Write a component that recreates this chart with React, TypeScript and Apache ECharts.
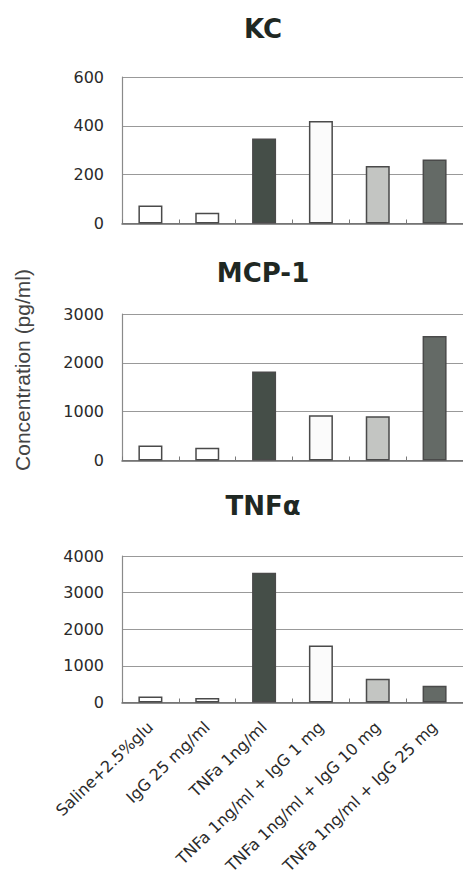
import React, { useEffect, useRef } from "react";
import * as echarts from "echarts";

const categories = [
  "Saline+2.5%glu",
  "IgG 25 mg/ml",
  "TNFa 1ng/ml",
  "TNFa 1ng/ml + IgG 1 mg",
  "TNFa 1ng/ml + IgG 10 mg",
  "TNFa 1ng/ml + IgG 25 mg",
];
const kcValues = [74, 44, 348, 420, 235, 262];
const mcp1Values = [306, 260, 1823, 925, 904, 2551];
const tnfValues = [163, 120, 3542, 1553, 646, 455];
const panelTitles = ["KC", "MCP-1", "TNFα"];
const yMax = [600, 3000, 4000];
const yInterval = [200, 1000, 1000];
const yAxisTitle = "Concentration (pg/ml)";

const barColors = ["#ffffff", "#ffffff", "#454e48", "#fbfbfb", "#c3c5c2", "#646a66"];

const gridTops = [77, 314, 556];
const gridHeight = 146.5;

export default function App() {
  const ref = useRef<HTMLDivElement>(null);
  useEffect(() => {
    if (!ref.current) return;
    const chart = echarts.init(ref.current, null, { renderer: "svg" });
    const allValues = [kcValues, mcp1Values, tnfValues];
    const grids = gridTops.map((t) => ({ left: 122, top: t, width: 341, height: gridHeight }));
    const xAxes = gridTops.map((_, i) => ({
      type: "category",
      gridIndex: i,
      data: categories,
      boundaryGap: true,
      axisLine: { show: true, lineStyle: { color: "#6a6a6a", width: 1.5 } },
      axisTick: { show: true, inside: true, length: 4, lineStyle: { color: "#7a7a7a" } },
      axisLabel: {
        show: i === 2,
        interval: 0,
        rotate: 44,
        margin: 22,
        fontFamily: "DejaVu Sans",
        fontSize: 16,
        color: "#2a2a2a",
      },
    }));
    const yAxes = gridTops.map((_, i) => ({
      type: "value",
      gridIndex: i,
      min: 0,
      max: yMax[i],
      interval: yInterval[i],
      axisLine: { show: true, lineStyle: { color: "#8a8a8a", width: 1.2 } },
      axisTick: { show: false },
      splitLine: { show: true, lineStyle: { color: "#999", width: 1.2 } },
      axisLabel: {
        margin: 18,
        fontFamily: "DejaVu Sans",
        fontSize: 16,
        color: "#2a2a2a",
        formatter: (v: number) => String(v),
      },
    }));
    const series = allValues.map((vals, i) => ({
      type: "bar",
      xAxisIndex: i,
      yAxisIndex: i,
      barWidth: 24,
      data: vals.map((v, j) => ({
        value: v,
        itemStyle: { color: barColors[j], borderColor: "#4a4a4a", borderWidth: 1.5 },
      })),
    }));
    const titleY = [29, 273, 506];
    const graphic: any[] = panelTitles.map((t, i) => ({
      type: "text",
      x: 263,
      y: titleY[i],
      style: {
        text: t,
        fontFamily: "DejaVu Sans",
        fontWeight: "bold",
        fontSize: 26,
        fill: "#1f2823",
        align: "center",
        verticalAlign: "middle",
      },
    }));
    graphic.push({
      type: "text",
      x: 22,
      y: 370,
      rotation: Math.PI / 2,
      style: {
        text: yAxisTitle,
        fontFamily: "Liberation Sans",
        fontSize: 21,
        fill: "#444",
        align: "center",
        verticalAlign: "middle",
      },
    });
    chart.setOption({
      animation: false,
      backgroundColor: "#ffffff",
      grid: grids,
      xAxis: xAxes,
      yAxis: yAxes,
      series,
      graphic,
    });
    return () => chart.dispose();
  }, []);
  return (
    <div
      ref={ref}
      style={{ position: "fixed", left: 0, top: 0, width: 463, height: 879 }}
    />
  );
}
